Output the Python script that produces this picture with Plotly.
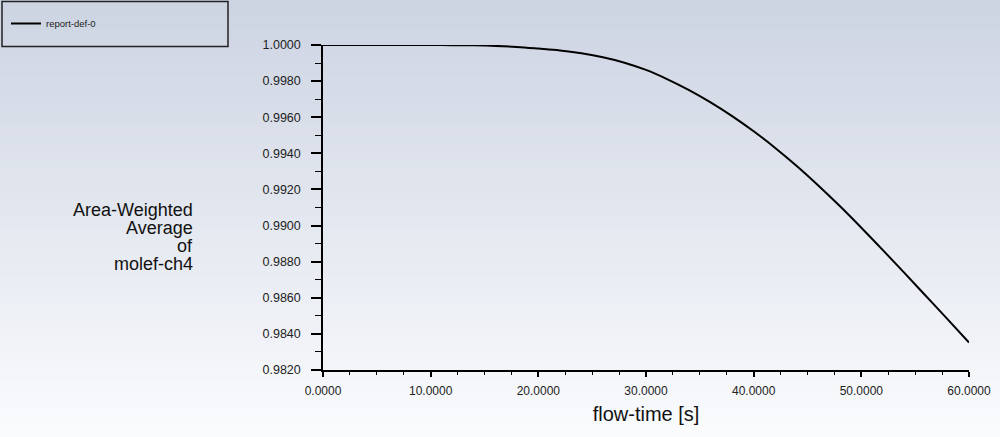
import plotly.graph_objects as go

# flow-time [s] vs area-weighted average molef-ch4
flow_time = [0, 4, 8, 10, 12, 14, 16, 18, 20, 22, 24, 26, 28, 30, 32, 34, 36,
             38, 40, 42, 44, 46, 48, 50, 52, 54, 56, 58, 60]
molef_ch4 = [1.00000, 1.00000, 1.00000, 1.00000, 0.99999, 0.99998, 0.99995,
             0.99989, 0.99980, 0.99970, 0.99954, 0.99932, 0.99902, 0.99862,
             0.99810, 0.99750, 0.99682, 0.99606, 0.99522, 0.99430, 0.99330,
             0.99222, 0.99108, 0.98988, 0.98864, 0.98738, 0.98610, 0.98482,
             0.98352]
series_name = 'report-def-0'
y_title_lines = ['Area-Weighted', 'Average', 'of', 'molef-ch4']

W, H = 1000, 437
L, R, T, B = 323, 31, 45, 67
pw, ph = W - L - R, H - T - B


def px(x):
    return (x - L) / pw


def py(y):
    return (H - B - y) / ph


fig = go.Figure()
fig.add_trace(go.Scatter(x=flow_time, y=molef_ch4, mode='lines', name=series_name,
                         line=dict(color='black', width=2, shape='spline', smoothing=1),
                         showlegend=True))

# vertical background gradient, as thin bands
top = (205, 212, 226)
bot = (250, 251, 253)
n = 46
shapes = []
for i in range(n):
    f = i / (n - 1)
    c = tuple(round(top[k] + (bot[k] - top[k]) * f) for k in range(3))
    y0 = i * H / n
    y1 = (i + 1) * H / n + 1
    shapes.append(dict(type='rect', xref='paper', yref='paper', layer='below',
                       x0=px(0), x1=px(W), y0=py(y1), y1=py(y0),
                       line=dict(width=0), fillcolor='rgb(%d,%d,%d)' % c))
# legend frame
shapes.append(dict(type='rect', xref='paper', yref='paper', layer='above',
                   x0=px(2), x1=px(228), y0=py(46.5), y1=py(1.5),
                   line=dict(color='#222', width=1.5), fillcolor='rgba(0,0,0,0)'))

annotations = []
for i, txt in enumerate(y_title_lines):
    annotations.append(dict(text=txt, xref='paper', yref='paper', x=px(195),
                            y=py(209.5 + i * 18.2), xanchor='right', yanchor='middle',
                            showarrow=False, align='right',
                            font=dict(family='Liberation Sans, Arial', size=18, color='#111')))

fig.update_layout(
    width=W, height=H,
    margin=dict(l=L, r=R, t=T, b=B),
    paper_bgcolor='rgba(0,0,0,0)', plot_bgcolor='rgba(0,0,0,0)',
    font=dict(family='Liberation Sans, Arial', color='#222'),
    shapes=shapes, annotations=annotations,
    showlegend=True,
    legend=dict(xref='container', yref='container', x=6 / W, y=1 - 23.5 / H,
                xanchor='left', yanchor='middle',
                bgcolor='rgba(0,0,0,0)', borderwidth=0,
                font=dict(size=9.5, color='#222')),
)
fig.update_xaxes(range=[0, 60], dtick=10, tick0=0, tickformat='.4f',
                 showgrid=False, zeroline=False, showline=True, linecolor='black', linewidth=1.5,
                 ticks='outside', ticklen=5, tickwidth=1.5, tickcolor='black',
                 minor=dict(dtick=2.5, ticks='outside', ticklen=3, tickwidth=1, tickcolor='black'),
                 tickfont=dict(size=12, color='#222'), ticklabelstandoff=4,
                 title=dict(text='flow-time [s]', font=dict(size=20, color='#111'), standoff=10),
                 automargin=False)
fig.update_yaxes(range=[0.982, 1.0], dtick=0.002, tick0=0.982, tickformat='.4f',
                 showgrid=False, zeroline=False, showline=True, linecolor='black', linewidth=1.5,
                 ticks='outside', ticklen=10, tickwidth=1.5, tickcolor='black',
                 minor=dict(dtick=0.001, ticks='outside', ticklen=6, tickwidth=1.2, tickcolor='black'),
                 tickfont=dict(size=12.5, color='#222'), ticklabelstandoff=8,
                 automargin=False)

fig.write_html("out.html", config={'displayModeBar': False},
               post_script="document.body.style.margin='0';document.body.style.overflow='hidden';")
